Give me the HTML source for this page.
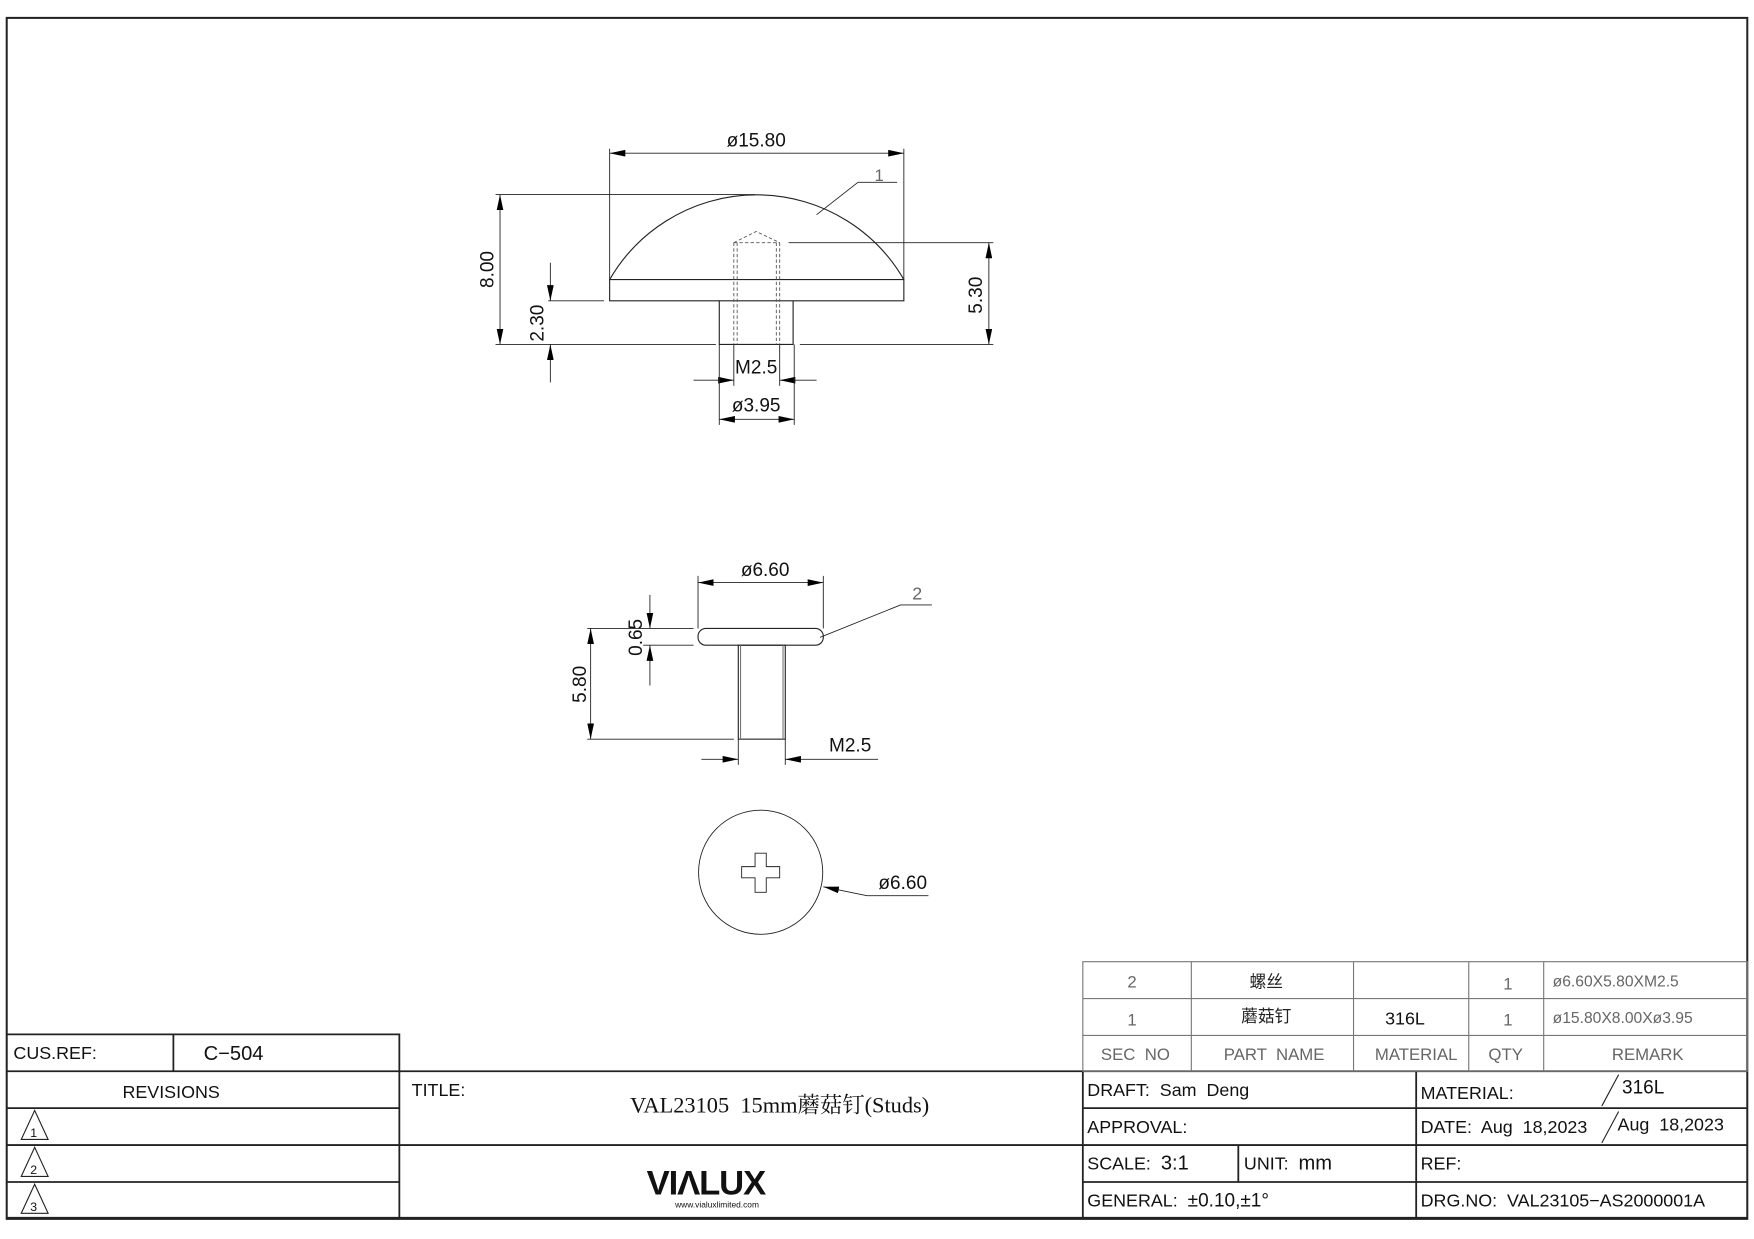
<!DOCTYPE html>
<html><head><meta charset="utf-8"><style>
html,body{margin:0;padding:0;background:#fff;}
svg{display:block;}
text{font-family:"Liberation Sans","Noto Sans CJK SC",sans-serif;fill:#111;white-space:pre;}
.g{fill:#666;}
</style></head><body>
<svg width="1754" height="1239" viewBox="0 0 1568 1108" preserveAspectRatio="none" xmlns="http://www.w3.org/2000/svg" xml:space="preserve">
<defs>
<marker id="a" viewBox="0 0 14 6" refX="14" refY="3" markerWidth="14" markerHeight="6" markerUnits="userSpaceOnUse" orient="auto-start-reverse"><path d="M0,0 L14,3 L0,6 z" fill="#000"/></marker>
</defs>
<g fill="none" stroke="#222" stroke-width="1.8">
<rect x="6" y="16" width="1556" height="1074"/>
</g>
<g fill="none" stroke="#222" stroke-width="1.6">
<polyline points="6,925 357,925 357,1089"/>
<line x1="6" y1="958" x2="1562" y2="958"/>
<line x1="6" y1="991" x2="357" y2="991"/>
<line x1="6" y1="1024" x2="1562" y2="1024"/>
<line x1="6" y1="1057" x2="357" y2="1057"/>
<line x1="6" y1="1089" x2="1562" y2="1089"/>
<line x1="155" y1="925" x2="155" y2="958"/>
<line x1="968" y1="958" x2="968" y2="1089"/>
<line x1="968" y1="991" x2="1562" y2="991"/>
<line x1="968" y1="1057" x2="1562" y2="1057"/>
<line x1="1266" y1="958" x2="1266" y2="1089"/>
<line x1="1107" y1="1024" x2="1107" y2="1057"/>
</g>
<g stroke="#222" stroke-width="1" fill="none">
<line x1="1447" y1="961" x2="1432" y2="989"/>
<line x1="1447" y1="994" x2="1432" y2="1022"/>
<path d="M19,1019 L31,993 L43,1019 z M19,1052 L31,1026 L43,1052 z M19,1085 L31,1059 L43,1085 z"/>
</g>
<g fill="none" stroke="#777" stroke-width="1">
<rect x="968" y="860" width="594" height="98"/>
<line x1="968" y1="893" x2="1562" y2="893"/>
<line x1="968" y1="926" x2="1562" y2="926"/>
<line x1="1065" y1="860" x2="1065" y2="958"/>
<line x1="1210" y1="860" x2="1210" y2="958"/>
<line x1="1313" y1="860" x2="1313" y2="958"/>
<line x1="1380" y1="860" x2="1380" y2="958"/>
</g>
<g font-size="15" class="g">
<text x="1012" y="883" text-anchor="middle" class="g">2</text>
<text x="1132" y="883" text-anchor="middle" style="fill:#222">螺丝</text>
<text x="1348" y="885" text-anchor="middle" class="g">1</text>
<text x="1388" y="882" class="g" font-size="14">ø6.60X5.80XM2.5</text>
<text x="1012" y="917" text-anchor="middle" class="g">1</text>
<text x="1132" y="914" text-anchor="middle" style="fill:#222">蘑菇钉</text>
<text x="1256" y="916" text-anchor="middle" style="fill:#111" font-size="16">316L</text>
<text x="1348" y="917" text-anchor="middle" class="g">1</text>
<text x="1388" y="915" class="g" font-size="14">ø15.80X8.00Xø3.95</text>
<text x="1015" y="948" text-anchor="middle" class="g">SEC  NO</text>
<text x="1139" y="948" text-anchor="middle" class="g">PART  NAME</text>
<text x="1266" y="948" text-anchor="middle" class="g">MATERIAL</text>
<text x="1346" y="948" text-anchor="middle" class="g">QTY</text>
<text x="1473" y="948" text-anchor="middle" class="g">REMARK</text>
</g>
<g font-size="16">
<text x="12" y="947">CUS.REF:</text>
<text x="182" y="948" font-size="18">C−504</text>
<text x="153" y="982" text-anchor="middle">REVISIONS</text>
<text x="27" y="1017" font-size="11">1</text>
<text x="27" y="1050" font-size="11">2</text>
<text x="27" y="1083" font-size="11">3</text>
<text x="368" y="980">TITLE:</text>
<text x="697" y="995" text-anchor="middle" font-size="20" style="font-family:'Liberation Serif','Noto Serif CJK SC',serif">VAL23105  15mm蘑菇钉(Studs)</text>
<text x="631" y="1068" text-anchor="middle" font-size="31" font-weight="bold" style="letter-spacing:-1px">VIΛLUX</text>
<text x="641" y="1080" text-anchor="middle" font-size="7.5">www.vialuxlimited.com</text>
<text x="972" y="980">DRAFT:  Sam  Deng</text>
<text x="972" y="1013">APPROVAL:</text>
<text x="972" y="1046">SCALE:  <tspan font-size="18">3:1</tspan></text>
<text x="1112" y="1046">UNIT:  <tspan font-size="18">mm</tspan></text>
<text x="972" y="1079">GENERAL:  <tspan font-size="17">±0.10,±1°</tspan></text>
<text x="1270" y="983">MATERIAL:</text>
<text x="1450" y="978" font-size="17">316L</text>
<text x="1270" y="1013">DATE:  Aug  18,2023</text>
<text x="1446" y="1011">Aug  18,2023</text>
<text x="1270" y="1046">REF:</text>
<text x="1270" y="1079">DRG.NO:  VAL23105−AS2000001A</text>
</g>
<g fill="none" stroke="#222" stroke-width="1">
<path d="M545,250 A152,152 0 0 1 808,250"/>
<rect x="545" y="250" width="263" height="19"/>
<polyline points="643,269 643,308 709,308 709,269"/>
</g>
<g fill="none" stroke="#555" stroke-width="0.8" stroke-dasharray="3,2">
<line x1="656" y1="217" x2="656" y2="308"/><line x1="659" y1="217" x2="659" y2="308"/>
<line x1="694" y1="217" x2="694" y2="308"/><line x1="697" y1="217" x2="697" y2="308"/>
<line x1="656" y1="217" x2="697" y2="217"/>
<polyline points="656,217 676,207 697,217"/>
</g>
<g fill="none" stroke="#222" stroke-width="0.8">
<line x1="545" y1="133" x2="545" y2="250"/><line x1="808" y1="133" x2="808" y2="250"/>
<line x1="545" y1="137" x2="808" y2="137" marker-start="url(#a)" marker-end="url(#a)"/>
<line x1="443" y1="174" x2="675" y2="174"/>
<line x1="443" y1="308" x2="640" y2="308"/><line x1="715" y1="308" x2="888" y2="308"/>
<line x1="447" y1="174" x2="447" y2="308" marker-start="url(#a)" marker-end="url(#a)"/>
<line x1="492" y1="235" x2="492" y2="269" marker-end="url(#a)"/>
<line x1="492" y1="342" x2="492" y2="308" marker-end="url(#a)"/>
<line x1="490" y1="269" x2="540" y2="269"/>
<line x1="705" y1="217" x2="888" y2="217"/>
<line x1="884" y1="217" x2="884" y2="308" marker-start="url(#a)" marker-end="url(#a)"/>
<line x1="656" y1="308" x2="656" y2="345"/><line x1="697" y1="308" x2="697" y2="345"/>
<line x1="620" y1="340" x2="656" y2="340" marker-end="url(#a)"/>
<line x1="730" y1="340" x2="697" y2="340" marker-end="url(#a)"/>
<line x1="643" y1="308" x2="643" y2="380"/><line x1="710" y1="308" x2="710" y2="380"/>
<line x1="643" y1="375" x2="710" y2="375" marker-start="url(#a)" marker-end="url(#a)"/>
<polyline points="730,192 767,163 802,163"/>
</g>
<g font-size="17">
<text x="676" y="131" text-anchor="middle">ø15.80</text>
<text x="786" y="162" text-anchor="middle" class="g" font-size="15">1</text>
<text transform="translate(441,241) rotate(-90)" text-anchor="middle">8.00</text>
<text transform="translate(486,289) rotate(-90)" text-anchor="middle">2.30</text>
<text transform="translate(878,264) rotate(-90)" text-anchor="middle">5.30</text>
<text x="676" y="334" text-anchor="middle">M2.5</text>
<text x="676" y="368" text-anchor="middle">ø3.95</text>
</g>
<g fill="none" stroke="#222" stroke-width="1">
<rect x="624" y="562" width="112" height="15" rx="7"/>
<rect x="660" y="577" width="42" height="84"/>
<line x1="662" y1="577" x2="662" y2="661" stroke="#777"/><line x1="700" y1="577" x2="700" y2="661" stroke="#777"/>
</g>
<g fill="none" stroke="#222" stroke-width="0.8">
<line x1="624" y1="515" x2="624" y2="562"/><line x1="736" y1="515" x2="736" y2="562"/>
<line x1="624" y1="521" x2="736" y2="521" marker-start="url(#a)" marker-end="url(#a)"/>
<polyline points="733,570 805,541 833,541"/>
<line x1="525" y1="562" x2="620" y2="562"/><line x1="575" y1="577" x2="620" y2="577"/>
<line x1="581" y1="532" x2="581" y2="562" marker-end="url(#a)"/>
<line x1="581" y1="613" x2="581" y2="577" marker-end="url(#a)"/>
<line x1="525" y1="661" x2="656" y2="661"/>
<line x1="528" y1="562" x2="528" y2="661" marker-start="url(#a)" marker-end="url(#a)"/>
<line x1="660" y1="661" x2="660" y2="684"/><line x1="702" y1="661" x2="702" y2="684"/>
<line x1="627" y1="679" x2="660" y2="679" marker-end="url(#a)"/>
<line x1="785" y1="679" x2="702" y2="679" marker-end="url(#a)"/>
<circle cx="680" cy="780" r="55.5"/>
<path d="M675,763 h10 v12 h12 v10 h-12 v13 h-10 v-13 h-12 v-10 h12 z"/>
<polyline points="830,801 775,801 736,793" marker-end="url(#a)"/>
</g>
<g font-size="17">
<text x="684" y="515" text-anchor="middle">ø6.60</text>
<text x="820" y="536" text-anchor="middle" class="g" font-size="16">2</text>
<text transform="translate(574,570) rotate(-90)" text-anchor="middle">0.65</text>
<text transform="translate(524,612) rotate(-90)" text-anchor="middle">5.80</text>
<text x="760" y="672" text-anchor="middle">M2.5</text>
<text x="807" y="795" text-anchor="middle">ø6.60</text>
</g>
</svg>
</body></html>
